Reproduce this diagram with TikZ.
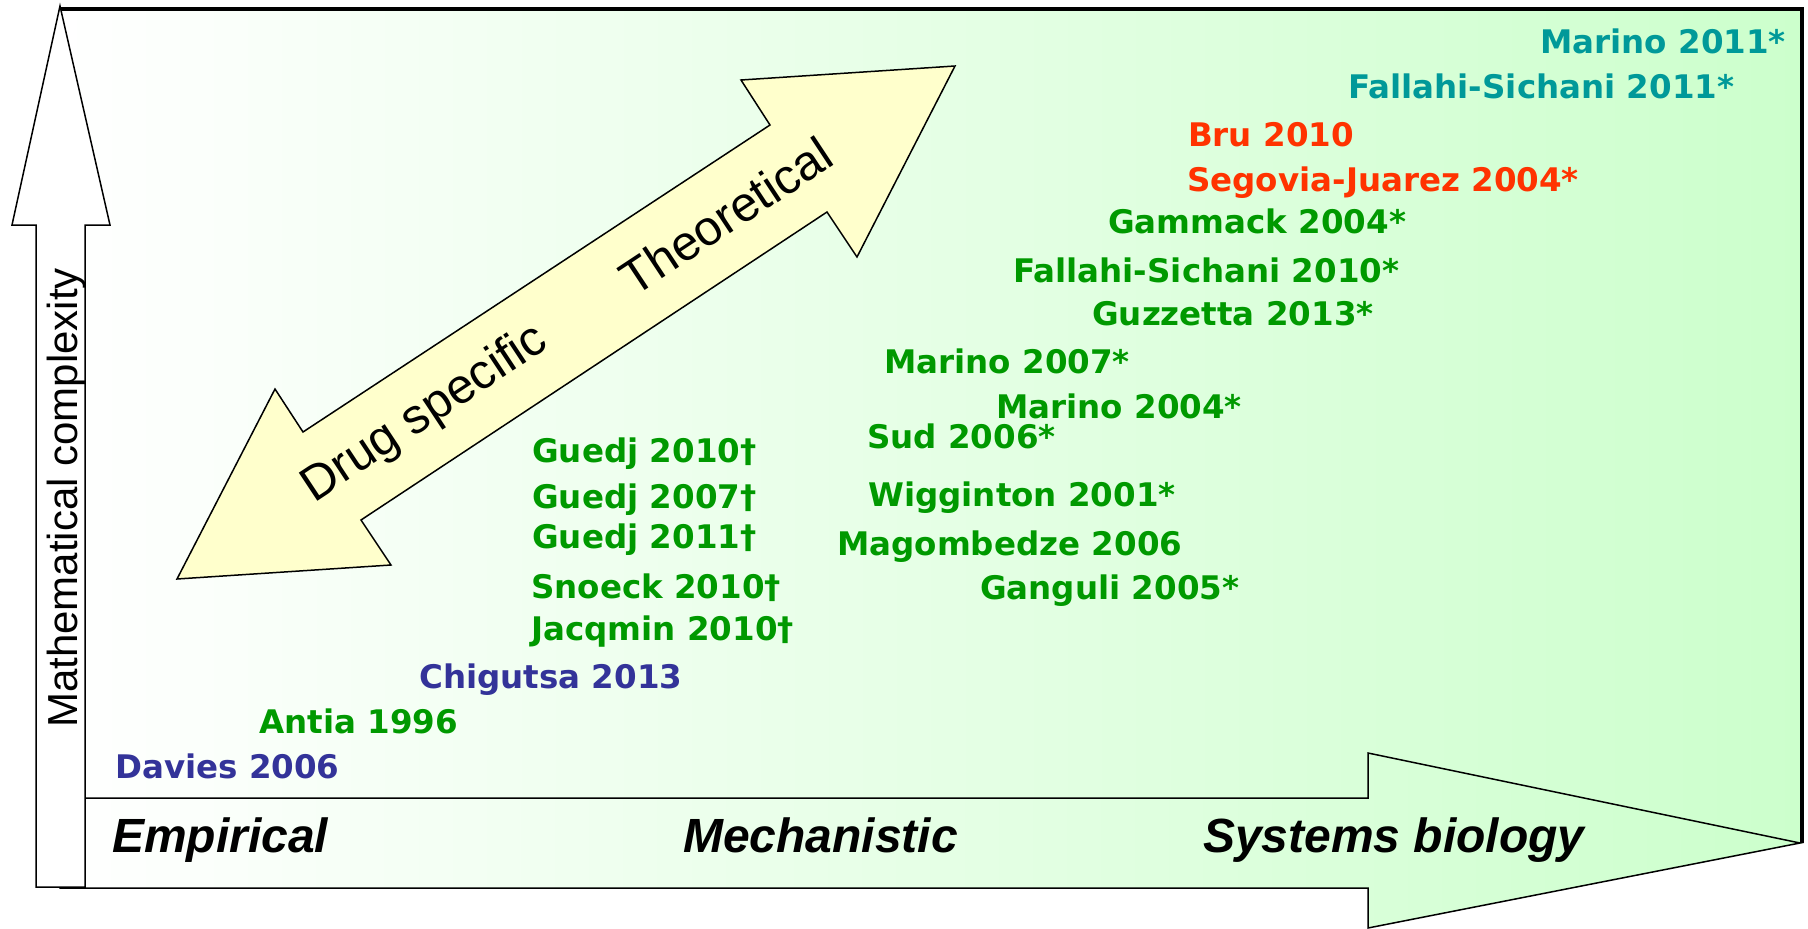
\documentclass[tikz,border=0pt]{standalone}
\usepackage{fontspec}
\setmainfont{Liberation Sans}
\newfontfamily\refsfont{DejaVu Sans}
\definecolor{litgreen}{RGB}{0,153,0}
\definecolor{litteal}{RGB}{0,153,153}
\definecolor{litred}{RGB}{255,51,0}
\definecolor{litblue}{RGB}{51,51,153}
\definecolor{bggreen}{RGB}{204,255,204}
\definecolor{arrowyellow}{RGB}{255,255,204}

\begin{document}
\begin{tikzpicture}[x=1pt,y=-1pt,
  lit/.style={anchor=base west,inner sep=0pt,font=\refsfont\bfseries\fontsize{32.5}{39}\selectfont},
  axislbl/.style={anchor=base west,inner sep=0pt,font=\bfseries\itshape\fontsize{48}{58}\selectfont},
  bigarrow/.style={draw=black,line width=1.5pt,line join=miter}]
  \useasboundingbox (0,0) rectangle (1808,929);

  % background panel
  \shade[left color=white,right color=bggreen] (60,9) rectangle (1802,843);
  \draw[line width=3.5pt] (60,9) -- (1802,9) -- (1802,843);

  % axes
  \shadedraw[bigarrow,left color=white,right color=bggreen]
    (60,798) -- (1368,798) -- (1368,753) -- (1800,843) -- (1368,928) -- (1368,888) -- (60,888) -- cycle;
  \draw[bigarrow,fill=white]
    (36,887) -- (36,225) -- (12,225) -- (60,6) -- (110,225) -- (85,225) -- (85,887) -- cycle;

  \node[axislbl] (empirical) at (112,852) {Empirical};
  \node[axislbl] (mechanistic) at (683,852) {Mechanistic};
  \node[axislbl] (sysbio) at (1203,852) {Systems biology};
  \node[rotate=90,anchor=base west,inner sep=0pt,font=\fontsize{42}{50}\selectfont]
    (mathcx) at (77,728) {Mathematical complexity};

  % double arrow
  \draw[bigarrow,fill=arrowyellow]
    (955,66) -- (741,80) -- (770,125) -- (303,432) -- (275,389) -- (177,579)
    -- (391,565) -- (361,520) -- (827,212) -- (857,257) -- cycle;
  \coordinate (dlow) at (332,476);
  \coordinate (dup) at (798,168);
  \path (dlow) -- (dup)
    node[pos=0.2,sloped,font=\fontsize{49}{59}\selectfont] (drug) {Drug specific}
    node[pos=0.845,sloped,font=\fontsize{49}{59}\selectfont] (theo) {Theoretical};

  % references
  \node[lit,text=litteal] (marino11) at (1540,53) {Marino 2011*};
  \node[lit,text=litteal] (fallahi11) at (1348,98) {Fallahi-Sichani 2011*};
  \node[lit,text=litred] (bru10) at (1188,146) {Bru 2010};
  \node[lit,text=litred] (segovia04) at (1187,191) {Segovia-Juarez 2004*};
  \node[lit,text=litgreen] (gammack04) at (1108,233) {Gammack 2004*};
  \node[lit,text=litgreen] (fallahi10) at (1013,282) {Fallahi-Sichani 2010*};
  \node[lit,text=litgreen] (guzzetta13) at (1092,325) {Guzzetta 2013*};
  \node[lit,text=litgreen] (marino07) at (884,373) {Marino 2007*};
  \node[lit,text=litgreen] (marino04) at (996,418) {Marino 2004*};
  \node[lit,text=litgreen] (sud06) at (867,448) {Sud 2006*};
  \node[lit,text=litgreen] (wigginton01) at (868,506) {Wigginton 2001*};
  \node[lit,text=litgreen] (magombedze06) at (837,555) {Magombedze 2006};
  \node[lit,text=litgreen] (ganguli05) at (980,599) {Ganguli 2005*};
  \node[lit,text=litgreen] (guedj10) at (532,462) {Guedj 2010†};
  \node[lit,text=litgreen] (guedj07) at (532,508) {Guedj 2007†};
  \node[lit,text=litgreen] (guedj11) at (532,548) {Guedj 2011†};
  \node[lit,text=litgreen] (snoeck10) at (531,598) {Snoeck 2010†};
  \node[lit,text=litgreen] (jacqmin10) at (531,640) {Jacqmin 2010†};
  \node[lit,text=litblue] (chigutsa13) at (419,688) {Chigutsa 2013};
  \node[lit,text=litgreen] (antia96) at (259,733) {Antia 1996};
  \node[lit,text=litblue] (davies06) at (115,778) {Davies 2006};
\end{tikzpicture}
\end{document}
